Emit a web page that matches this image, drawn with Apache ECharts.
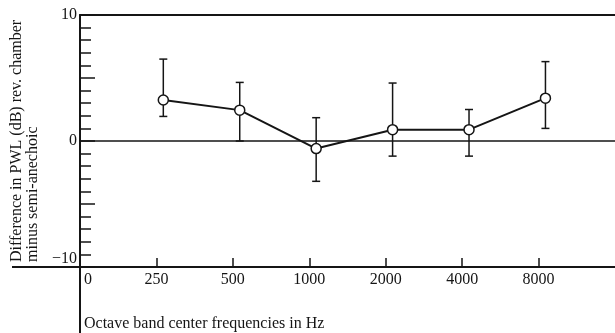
<!DOCTYPE html>
<html>
<head>
<meta charset="utf-8">
<script src="https://cdn.jsdelivr.net/npm/echarts@6/dist/echarts.min.js"></script>
<style>
  html, body { margin: 0; padding: 0; background: #fff; }
  #chart { width: 615px; height: 333px; }
</style>
</head>
<body>
<div id="chart"></div>
<script>
// ---- data ----
const xLabels = ['0', '250', '500', '1000', '2000', '4000', '8000'];
const bands = ['250', '500', '1000', '2000', '4000', '8000'];
const meanDiff = [3.25, 2.45, -0.6, 0.9, 0.9, 3.4];
const upperDiff = [6.5, 4.65, 1.85, 4.6, 2.5, 6.3];
const lowerDiff = [1.95, 0, -3.2, -1.2, -1.2, 1.0];
const yTickLabels = [10, 0, -10];
const yTitle1 = 'Difference in PWL (dB) rev. chamber';
const yTitle2 = 'minus semi-anechoic';
const xTitle = 'Octave band center frequencies in Hz';

const FONT = "'Liberation Serif', 'DejaVu Serif', serif";
const INK = '#151515';

const bandPos = bands.map(b => xLabels.indexOf(b));
const meanData = bands.map((b, i) => [bandPos[i], meanDiff[i]]);
const errData = bands.map((b, i) => [bandPos[i], lowerDiff[i], upperDiff[i]]);

const chart = echarts.init(document.getElementById('chart'), null, { renderer: 'canvas' });

const GL = 80, GT = 15, GH = 252; // grid box
const option = {
  animation: false,
  backgroundColor: '#ffffff',
  grid: { left: GL, right: 0, top: GT, height: GH, containLabel: false },
  xAxis: [
    {
      type: 'value', min: 0, max: 7, position: 'bottom',
      axisLine: { show: true, onZero: false, lineStyle: { color: INK, width: 2 } },
      axisTick: { show: true, inside: true, length: 9, lineStyle: { color: INK, width: 1.5 },
                  customValues: bandPos },
      axisLabel: {
        show: true, margin: 5, color: INK, fontFamily: FONT, fontSize: 16,
        customValues: xLabels.map((l, i) => i),
        formatter: v => (v === 0 ? '{z|0}' : (xLabels[v] || '')),
        rich: { z: { fontFamily: FONT, fontSize: 16, color: INK, padding: [0, 0, 0, 16] } }
      },
      splitLine: { show: false }
    },
    {
      type: 'value', min: 0, max: 7, position: 'top',
      axisLine: { show: true, onZero: false, lineStyle: { color: INK, width: 2 } },
      axisTick: { show: false }, axisLabel: { show: false }, splitLine: { show: false }
    },
    {
      // data placement axis (points sit slightly right of the printed ticks)
      type: 'value', min: -0.09, max: 6.91, show: false
    }
  ],
  yAxis: [
    {
      type: 'value', min: -10, max: 10, interval: 5, position: 'left',
      axisLine: { show: true, onZero: false, lineStyle: { color: INK, width: 2 } },
      axisTick: { show: true, inside: true, length: 15, lineStyle: { color: INK, width: 1.5 } },
      minorTick: { show: true, splitNumber: 5, length: 11, lineStyle: { color: INK, width: 1.5 } },
      axisLabel: {
        show: true, margin: 3, color: INK, fontFamily: FONT, fontSize: 16,
        customValues: yTickLabels,
        formatter: v => (v < 0 ? '{m|\u2212' + Math.abs(v) + '}' : String(v)),
        rich: { m: { fontFamily: FONT, fontSize: 16, color: INK, padding: [0, 0, 16, 0] } }
      },
      splitLine: { show: false }, minorSplitLine: { show: false }
    }
  ],
  series: [
    {
      type: 'custom', xAxisIndex: 2, yAxisIndex: 0, z: 3,
      data: errData,
      renderItem: function (params, api) {
        const x = api.value(0);
        const lo = api.coord([x, api.value(1)]);
        const hi = api.coord([x, api.value(2)]);
        const w = 4;
        const st = { stroke: INK, lineWidth: 1.5 };
        return {
          type: 'group',
          children: [
            { type: 'line', shape: { x1: lo[0], y1: lo[1], x2: hi[0], y2: hi[1] }, style: st },
            { type: 'line', shape: { x1: lo[0] - w, y1: lo[1], x2: lo[0] + w, y2: lo[1] }, style: st },
            { type: 'line', shape: { x1: hi[0] - w, y1: hi[1], x2: hi[0] + w, y2: hi[1] }, style: st }
          ]
        };
      }
    },
    {
      type: 'line', xAxisIndex: 2, yAxisIndex: 0, z: 5,
      data: meanData,
      symbol: 'circle', symbolSize: 10, showAllSymbol: true,
      itemStyle: { color: '#ffffff', borderColor: INK, borderWidth: 1.5 },
      lineStyle: { color: INK, width: 2 },
      markLine: {
        silent: true, symbol: 'none', label: { show: false },
        lineStyle: { color: INK, width: 1.5, type: 'solid' },
        data: [{ yAxis: 0 }]
      }
    }
  ],
  graphic: [
    { type: 'line', shape: { x1: GL, y1: GT + GH, x2: GL, y2: 333 },
      style: { stroke: INK, lineWidth: 2 } },
    { type: 'line', shape: { x1: 12, y1: GT + GH, x2: GL, y2: GT + GH },
      style: { stroke: INK, lineWidth: 2 } },
    { type: 'text', x: 17, y: 262, rotation: Math.PI / 2,
      style: { text: yTitle1, font: '16px ' + FONT, fill: INK, textAlign: 'left', textVerticalAlign: 'middle' } },
    { type: 'text', x: 33, y: 262, rotation: Math.PI / 2,
      style: { text: yTitle2, font: '16px ' + FONT, fill: INK, textAlign: 'left', textVerticalAlign: 'middle' } },
    { type: 'text', x: 84, y: 324,
      style: { text: xTitle, font: '16px ' + FONT, fill: INK, textAlign: 'left', textVerticalAlign: 'middle' } }
  ]
};
chart.setOption(option);
</script>
</body>
</html>
